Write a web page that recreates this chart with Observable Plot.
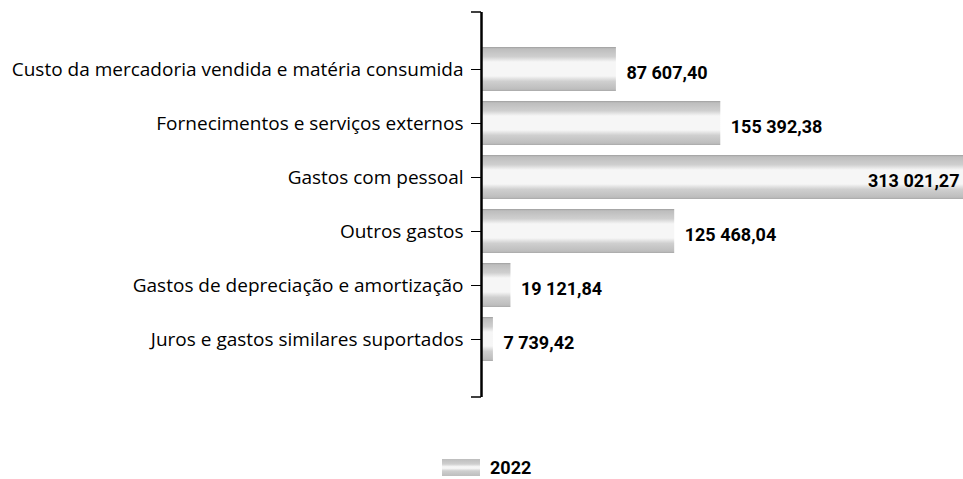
<!DOCTYPE html>
<html>
<head>
<meta charset="utf-8">
<script src="https://cdn.jsdelivr.net/npm/d3@7"></script>
<script src="https://cdn.jsdelivr.net/npm/@observablehq/plot@0.6"></script>
<style>
  html, body { margin: 0; padding: 0; background: #fff; }
  #wrap { position: relative; width: 963px; height: 479px; }
  #legend { position: absolute; left: 442px; top: 457px; display: flex; align-items: center; font-family: Roboto, sans-serif; font-weight: 700; font-size: 18px; color: #000; }
  #legend .sw { width: 38px; height: 17px; margin-right: 10px; }
</style>
</head>
<body>
<div id="wrap"><div id="chart"></div><div id="legend"></div></div>
<script>
const categories = [
  "Custo da mercadoria vendida e matéria consumida",
  "Fornecimentos e serviços externos",
  "Gastos com pessoal",
  "Outros gastos",
  "Gastos de depreciação e amortização",
  "Juros e gastos similares suportados"
];
const values2022 = [87607.40, 155392.38, 313021.27, 125468.04, 19121.84, 7739.42];
const seriesName = "2022";

const data = categories.map((c, i) => ({category: c, value: values2022[i]}));
const maxVal = d3.max(values2022);
const loc = d3.formatLocale({decimal: ",", thousands: " ", grouping: [3], currency: ["", ""]});
const fmt = loc.format(",.2f");

const chart = Plot.plot({
  width: 963,
  height: 440,
  marginLeft: 481,
  marginRight: 0,
  marginTop: 12,
  marginBottom: 43,
  style: {fontFamily: "'Open Sans', sans-serif", fontSize: "19px", color: "#000", background: "#fff"},
  x: {domain: [0, maxVal], axis: null},
  y: {domain: categories, paddingInner: 0.18, paddingOuter: 0.6, label: null},
  marks: [
    Plot.barX(data, {x: "value", y: "category", fill: "#c4c4c4", insetLeft: 1}),
    Plot.text(data.filter(d => d.value < maxVal), {x: "value", y: "category", text: d => fmt(d.value), textAnchor: "start", dx: 10, dy: 4, fontFamily: "Roboto, sans-serif", fontWeight: 700, fontSize: 18, fill: "#000"}),
    Plot.text(data.filter(d => d.value === maxVal), {x: "value", y: "category", text: d => fmt(d.value), textAnchor: "end", dx: -4, dy: 4, fontFamily: "Roboto, sans-serif", fontWeight: 700, fontSize: 18, fill: "#000"}),
    Plot.axisY({tickSize: 10, tickPadding: 8, stroke: "#000", fontSize: 19, label: null}),
    Plot.ruleX([0], {stroke: "#000", strokeWidth: 2.5})
  ]
});

// gradient that mimics the scanned banded texture of the bars
const svg = d3.select(chart);
const defs = svg.insert("defs", ":first-child");
const g = defs.append("linearGradient").attr("id", "barGrad").attr("x1", 0).attr("y1", 0).attr("x2", 0).attr("y2", 1);
[[0, "#9e9e9e"], [0.04, "#bdbdbd"], [0.22, "#cfcfcf"], [0.34, "#f6f6f6"], [0.66, "#f6f6f6"], [0.78, "#cfcfcf"], [0.96, "#bdbdbd"], [1, "#a8a8a8"]]
  .forEach(([o, c]) => g.append("stop").attr("offset", o).attr("stop-color", c));
svg.selectAll("g[aria-label='bar'] rect").attr("fill", "url(#barGrad)");

// small end caps on the axis line at the ends of the band range
const yr = chart.scale("y").range;
const xr = chart.scale("x").range;
const caps = svg.append("g").attr("stroke", "#000").attr("stroke-width", 1.5);
yr.forEach(yv => caps.append("line").attr("x1", xr[0] - 10).attr("x2", xr[0]).attr("y1", yv).attr("y2", yv));

document.getElementById("chart").appendChild(chart);

const lg = document.getElementById("legend");
lg.innerHTML = `<div class="sw" style="background: linear-gradient(#bdbdbd, #cfcfcf 30%, #f6f6f6 45%, #f6f6f6 55%, #cfcfcf 70%, #bdbdbd)"></div><span>${seriesName}</span>`;
</script>
</body>
</html>
